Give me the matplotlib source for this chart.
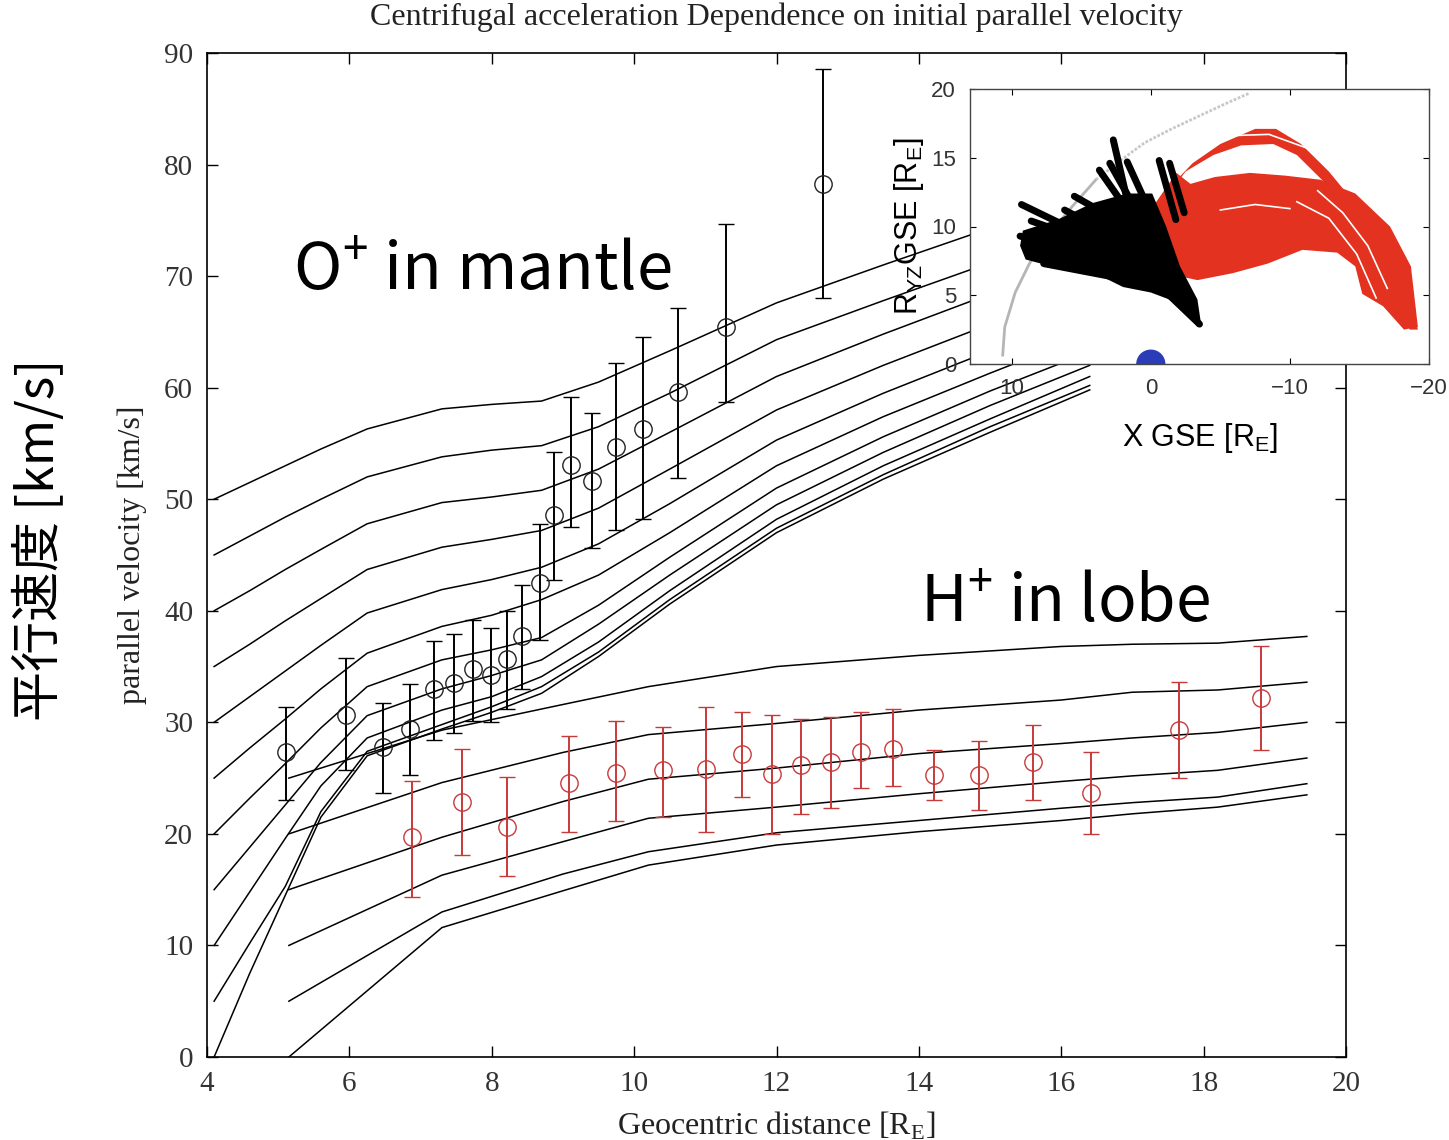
import matplotlib.pyplot as plt
from matplotlib.patches import Circle

# ---- main panel: model curves ----
# O+ (mantle), initial parallel velocity 50 ... 0 km/s
o_dist = [4.1, 4.6, 5.1, 5.6, 6.25, 7.3, 8.0, 8.7, 9.5, 10.5, 12.0, 13.5, 15.0, 16.4]
o_curves = [
    [50, 51.5, 53.0, 54.5, 56.3, 58.1, 58.5, 58.8, 60.5, 63.3, 67.6, 71.0, 74.3, 77.2],
    [45, 46.7, 48.4, 50.0, 52.0, 53.8, 54.4, 54.8, 56.5, 59.5, 64.3, 67.8, 71.2, 74.2],
    [40, 41.8, 43.7, 45.5, 47.8, 49.7, 50.2, 50.8, 52.7, 56.0, 61.0, 64.8, 68.4, 71.4],
    [35, 37.0, 39.1, 41.1, 43.7, 45.7, 46.4, 47.2, 49.2, 52.7, 58.0, 62.0, 65.7, 68.9],
    [30, 32.3, 34.6, 36.9, 39.8, 41.9, 42.8, 43.9, 46.0, 49.6, 55.3, 59.5, 63.3, 66.6],
    [25, 27.7, 30.3, 33.0, 36.2, 38.6, 39.6, 41.0, 43.2, 47.0, 53.0, 57.4, 61.3, 64.8],
    [20, 23.2, 26.3, 29.5, 33.2, 35.6, 36.5, 37.6, 40.5, 44.8, 51.0, 55.6, 59.7, 63.2],
    [15, 18.8, 22.6, 26.4, 30.6, 33.0, 34.2, 35.6, 38.8, 43.2, 49.5, 54.2, 58.4, 62.0],
    [10, 14.8, 19.6, 24.3, 28.6, 31.1, 32.3, 34.1, 37.2, 41.8, 48.2, 53.0, 57.2, 61.0],
    [5, 10.2, 15.3, 22.0, 27.4, 29.8, 31.4, 33.2, 36.3, 41.0, 47.4, 52.2, 56.5, 60.2],
    [0, 7.5, 14.5, 21.5, 27.0, 29.4, 30.9, 32.6, 35.9, 40.6, 47.0, 51.8, 56.0, 59.8],
]

# H+ (lobe), initial parallel velocity 25 ... 0 km/s
h_dist = [5.15, 7.3, 9.0, 10.2, 12.0, 14.0, 16.0, 17.0, 18.2, 19.45]
h_curves = [
    [25, 29.3, 31.6, 33.2, 35.0, 36.0, 36.8, 37.0, 37.1, 37.7],
    [20, 24.6, 27.3, 28.9, 29.9, 31.1, 32.0, 32.7, 32.9, 33.6],
    [15, 19.7, 22.9, 24.9, 25.9, 27.2, 28.1, 28.6, 29.1, 30.0],
    [10, 16.3, 19.3, 21.4, 22.4, 23.6, 24.7, 25.2, 25.7, 26.8],
    [5, 13.0, 16.4, 18.4, 20.1, 21.2, 22.3, 22.8, 23.3, 24.5],
    [0, 11.6, 14.9, 17.2, 19.0, 20.2, 21.2, 21.8, 22.4, 23.5],
]

# ---- observations ----
o_x = [5.11, 5.95, 6.47, 6.85, 7.19, 7.47, 7.74, 7.99, 8.21, 8.42,
       8.68, 8.87, 9.11, 9.41, 9.75, 10.12, 10.62, 11.29, 12.65]
o_v = [27.3, 30.7, 27.8, 29.4, 33.0, 33.5, 34.8, 34.2, 35.7, 37.7,
       42.5, 48.6, 53.1, 51.6, 54.7, 56.3, 59.6, 65.4, 78.3]
o_hi = [31.4, 35.8, 31.7, 33.4, 37.3, 37.9, 39.2, 38.5, 40.0, 42.3,
        47.8, 54.2, 59.2, 57.7, 62.2, 64.5, 67.1, 74.7, 88.6]
o_lo = [23.0, 25.7, 23.7, 25.3, 28.4, 29.0, 30.1, 30.0, 31.2, 33.0,
        37.4, 42.8, 47.5, 45.6, 47.2, 48.2, 51.9, 58.7, 68.0]

h_x = [6.88, 7.58, 8.21, 9.08, 9.75, 10.41, 11.01, 11.51, 11.93, 12.34,
       12.77, 13.18, 13.63, 14.21, 14.84, 15.6, 16.42, 17.65, 18.8]
h_v = [19.7, 22.9, 20.6, 24.6, 25.5, 25.7, 25.8, 27.2, 25.4, 26.2,
       26.4, 27.3, 27.6, 25.3, 25.3, 26.4, 23.7, 29.3, 32.2]
h_hi = [24.7, 27.6, 25.1, 28.8, 30.1, 29.6, 31.4, 30.9, 30.7, 30.3,
        30.5, 30.9, 31.2, 27.5, 28.3, 29.8, 27.3, 33.6, 36.8]
h_lo = [14.3, 18.1, 16.2, 20.2, 21.2, 21.5, 20.2, 23.3, 20.0, 21.8,
        22.3, 24.1, 24.3, 23.0, 22.1, 23.0, 20.0, 25.0, 27.5]

# ---- inset: trajectories in X GSE / R_YZ GSE plane ----
arc_x = [10.65, 10.5, 9.75, 8.73, 7.5, 5.7, 3.95]
arc_y = [0.65, 2.7, 5.2, 7.3, 9.2, 11.4, 13.4]
arc_dot_x = [3.95, 2.19, 0.43, -1.5, -3.4, -5.3, -7.1]
arc_dot_y = [13.4, 14.8, 16.1, 17.1, 18.0, 18.9, 19.7]

black_poly_x = [9.4, 9.2, 6.7, 4.2, 1.7, -0.1, -1.1, -2.1, -3.35, -3.6, -3.35,
                -2.1, 0.0, 2.0, 4.0, 7.5, 9.0]
black_poly_y = [8.6, 9.7, 10.5, 11.7, 12.4, 12.4, 10.0, 7.1, 4.7, 3.0, 2.7,
                4.4, 5.2, 5.6, 6.6, 7.2, 7.6]
black_tracks = [
    ([9.3, 4.0], [11.6, 9.0]),
    ([9.4, 3.0], [9.3, 7.6]),
    ([8.6, 3.5], [10.4, 8.6]),
    ([7.7, 2.0], [7.3, 6.2]),
    ([6.2, 2.5], [11.2, 9.2]),
    ([5.5, 2.0], [12.2, 10.2]),
    ([3.7, 1.0], [14.1, 10.2]),
    ([2.95, 0.5], [14.6, 10.2]),
    ([2.7, 1.6], [16.3, 11.5]),
    ([1.7, -0.2], [14.7, 10.5]),
    ([-0.6, -1.8], [14.8, 10.5]),
    ([-1.35, -2.4], [14.6, 11.0]),
    ([-0.5, -3.5], [5.8, 2.9]),
]

red_poly_x = [-1.84, -2.85, -4.61, -7.13, -9.65, -12.2, -14.7, -17.2, -18.7, -19.2,
              -18.2, -16.7, -15.2, -14.7, -13.4, -10.9, -8.4, -5.87, -3.35, -1.09,
              -0.08, -0.33]
red_poly_y = [13.9, 13.1, 13.6, 13.9, 13.7, 13.4, 12.4, 10.0, 7.1, 2.7,
              2.5, 4.2, 5.1, 7.1, 8.1, 8.3, 7.3, 6.6, 6.1, 6.6,
              8.5, 11.7]
red_band_x = [-1.3, -3.0, -5.0, -7.5, -9.0, -10.8, -12.8, -15.0, -17.0, -18.5, -19.2,
              -18.6, -17.8, -16.3, -14.3, -12.3, -10.5, -8.8, -6.5, -4.5, -2.5, -1.4]
red_band_y = [12.8, 14.6, 16.0, 17.1, 17.1, 16.0, 14.0, 11.3, 8.4, 5.5, 2.5,
              2.5, 5.5, 8.5, 11.3, 13.4, 15.2, 16.0, 15.9, 15.2, 14.0, 12.5]
red_gaps = [
    ([-12.0, -13.8, -15.6, -17.0], [12.6, 11.0, 8.6, 5.5]),
    ([-10.5, -12.8, -14.8, -16.2], [11.8, 10.6, 8.0, 4.8]),
    ([-5.0, -7.5, -10.0], [11.2, 11.6, 11.3]),
    ([-3.0, -5.5, -8.5, -11.5], [16.0, 16.6, 16.7, 15.6]),
]


def main():
    serif = 'Liberation Serif'
    sans = 'Liberation Sans'
    jp = ['Noto Sans CJK JP', 'DejaVu Sans']

    fig = plt.figure(figsize=(14.49, 11.40), dpi=100)
    ax = fig.add_axes([207 / 1449, 83 / 1140, 1139 / 1449, 1004 / 1140])

    for c in o_curves:
        ax.plot(o_dist, c, color='black', lw=1.1)
    for c in h_curves:
        ax.plot(h_dist, c, color='black', lw=1.1)

    o_err = [[v - lo for v, lo in zip(o_v, o_lo)], [hi - v for v, hi in zip(o_v, o_hi)]]
    ax.errorbar(o_x, o_v, yerr=o_err, fmt='o', mfc='none', mec='#222222', ms=12.5,
                mew=1.0, ecolor='black', elinewidth=1.4, capsize=5.5, capthick=1.4)
    h_err = [[v - lo for v, lo in zip(h_v, h_lo)], [hi - v for v, hi in zip(h_v, h_hi)]]
    ax.errorbar(h_x, h_v, yerr=h_err, fmt='o', mfc='none', mec='#c83a3a', ms=12.5,
                mew=1.0, ecolor='#c83a3a', elinewidth=1.4, capsize=5.5, capthick=1.4)

    ax.set_xlim(4, 20)
    ax.set_ylim(0, 90)
    ax.set_xticks(range(4, 21, 2))
    ax.set_yticks(range(0, 91, 10))
    ax.tick_params(direction='in', top=True, right=True, length=8, width=1.0,
                   labelsize=21, pad=10)
    for lab in ax.get_xticklabels() + ax.get_yticklabels():
        lab.set_family(serif)
        lab.set_color('#333333')
    for s in ax.spines.values():
        s.set_linewidth(1.2)
    ax.set_title('Centrifugal acceleration Dependence on initial parallel velocity',
                 family=serif, fontsize=23, color='#222222', pad=20)
    ax.set_xlabel(r'Geocentric distance [R$_\mathregular{E}$]', family=serif,
                  fontsize=23, color='#222222', labelpad=9)
    ax.set_ylabel('parallel velocity [km/s]', family=serif, fontsize=23,
                  color='#222222', labelpad=12)

    fig.text(293 / 1449, 1 - 290 / 1140, r'O$^\mathregular{+}$ in mantle', family=jp,
             fontsize=47, va='baseline', ha='left')
    fig.text(920 / 1449, 1 - 622 / 1140, r'H$^\mathregular{+}$ in lobe', family=jp,
             fontsize=46, va='baseline', ha='left')
    fig.text(40 / 1449, 1 - 540 / 1140, '平行速度 [km/s]', family=jp, fontsize=36,
             rotation=90, ha='center', va='center')

    # ---- inset ----
    ins = fig.add_axes([970 / 1449, (1140 - 364) / 1140, 459 / 1449, 275 / 1140])
    ins.set_xlim(13, -20)
    ins.set_ylim(0, 20)
    ins.plot(arc_x, arc_y, color='#b5b5b5', lw=2.0, zorder=1)
    ins.plot(arc_dot_x, arc_dot_y, color='#c8c8c8', lw=2.0, ls=(0, (1, 0.6)), zorder=1)
    ins.fill(red_poly_x, red_poly_y, color='#e3321f', lw=0, zorder=2)
    ins.fill(red_band_x, red_band_y, color='#e3321f', lw=0, zorder=2)
    for gx, gy in red_gaps:
        ins.plot(gx, gy, color='white', lw=1.2, zorder=3)
    ins.fill(black_poly_x, black_poly_y, color='black', lw=0, zorder=4)
    for tx, ty in black_tracks:
        ins.plot(tx, ty, color='black', lw=5, solid_capstyle='round', zorder=4)
    ins.add_patch(Circle((0, 0), 1.0, color='#2a3cb8', zorder=5))

    ins.set_xticks([10, 0, -10, -20])
    ins.set_xticklabels(['10', '0', '\u221210', '\u221220'])
    ins.set_yticks([0, 5, 10, 15, 20])
    ins.tick_params(direction='in', top=True, right=True, length=4, width=0.8,
                    labelsize=16, pad=10)
    for lab in ins.get_xticklabels() + ins.get_yticklabels():
        lab.set_family(sans)
        lab.set_color('#333333')
    for s in ins.spines.values():
        s.set_linewidth(1.0)
        s.set_color('#444444')
    ins.set_xlabel(r'X GSE [R$_\mathregular{E}$]', family=sans, fontsize=22, labelpad=16)
    ins.set_ylabel(r'R$_\mathregular{YZ}$GSE [R$_\mathregular{E}$]', family=sans,
                   fontsize=22, labelpad=4)

    fig.savefig('out.png', dpi=100)


if __name__ == "__main__":
    main()
